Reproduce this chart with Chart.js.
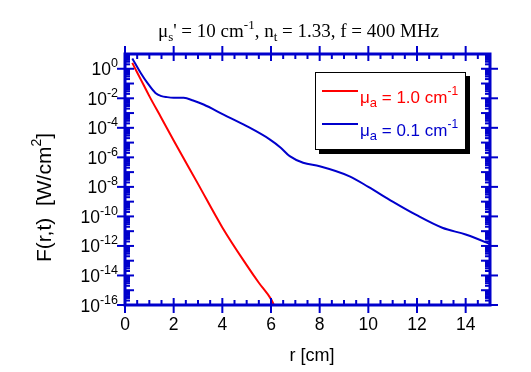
<!DOCTYPE html>
<html>
<head>
<meta charset="utf-8">
<script src="https://cdn.jsdelivr.net/npm/chart.js@4.4.0/dist/chart.umd.min.js"></script>
<style>
  html, body { margin: 0; padding: 0; background: #fff; }
  canvas { display: block; }
</style>
</head>
<body>
<canvas id="fluence" width="531" height="372"></canvas>
<script>
"use strict";

// mu_a = 1.0 cm-1
const redR = [0.3, 0.5, 0.75, 1.0, 1.5, 2.0, 3.0, 4.0, 5.0, 5.5, 6.0, 6.12];
const redF = [2.5, 5.6e-1, 8.9e-2, 1.4e-2, 4.5e-4, 1.4e-5, 1.6e-8, 1.8e-11,
              5.0e-14, 3.2e-15, 2.5e-16, 1.0e-16];

// mu_a = 0.1 cm-1
const blueR = [0.3, 0.64, 0.92, 1.25, 1.5, 1.73, 2.0, 2.41, 2.8, 3.23, 4.05, 5.0, 5.96, 6.4,
               6.77, 7.32, 8.0, 9.23, 10.0, 11.0, 11.95, 13.04, 14.0, 14.88, 15.0];
const blueF = [5.0, 5.4e-1, 1.1e-1, 2.3e-2, 1.4e-2, 1.2e-2, 1.1e-2, 1.07e-2, 7.1e-3, 3.8e-3,
               7.9e-4, 1.3e-4, 1.6e-5, 4.5e-6, 1.2e-6, 4.3e-7, 2.5e-7, 5.2e-8, 1.0e-8,
               1.0e-9, 1.3e-10, 1.7e-11, 5.9e-12, 1.6e-12, 1.3e-12];

const xTicks = [0, 2, 4, 6, 8, 10, 12, 14];
const yTickExps = [0, -2, -4, -6, -8, -10, -12, -14, -16];

const axisBlue = "#0000cc";
const sans = "'Liberation Sans', Arial, sans-serif";
const serif = "'Liberation Serif', 'Times New Roman', serif";

const toPoints = (xs, ys) => xs.map((x, i) => ({ x: x, y: ys[i] }));

// draws text made of pieces, each with its own font and vertical shift
const drawParts = (ctx, parts, x, y, align) => {
    let total = 0;
    for (const p of parts) {
        ctx.font = p.font;
        total += ctx.measureText(p.text).width;
    }
    let cx = x;
    if (align === "center") cx = x - total / 2;
    if (align === "right") cx = x - total;
    ctx.textAlign = "left";
    ctx.textBaseline = "alphabetic";
    for (const p of parts) {
        ctx.font = p.font;
        ctx.fillText(p.text, cx, y + (p.dy || 0));
        cx += ctx.measureText(p.text).width;
    }
};

const framePlugin = {
    id: "frame",
    afterDatasetsDraw(chart) {
        const { ctx, chartArea: a, scales: { x, y } } = chart;
        ctx.save();
        ctx.strokeStyle = axisBlue;
        ctx.lineWidth = 3;
        ctx.strokeRect(a.left, a.top, a.right - a.left, a.bottom - a.top);

        ctx.lineWidth = 2;
        const line = (x1, y1, x2, y2) => {
            ctx.beginPath();
            ctx.moveTo(x1, y1);
            ctx.lineTo(x2, y2);
            ctx.stroke();
        };

        // x ticks, minor every 0.5
        for (let v = 0; v <= x.max; v += 0.5) {
            const px = x.getPixelForValue(v);
            if (xTicks.includes(v)) {
                line(px, a.bottom - 7, px, a.bottom + 8);
                line(px, a.top - 8, px, a.top + 7);
            } else {
                line(px, a.bottom - 5, px, a.bottom);
                line(px, a.top, px, a.top + 5);
            }
        }

        // y ticks, decades and log minors
        for (let e = -16; e <= 0; e++) {
            const py = y.getPixelForValue(Math.pow(10, e));
            if (yTickExps.includes(e)) {
                line(a.left - 8, py, a.left + 9, py);
                line(a.right - 9, py, a.right + 8, py);
            } else {
                line(a.left, py, a.left + 9, py);
                line(a.right - 9, py, a.right, py);
            }
            for (let k = 2; k <= 9; k++) {
                const pm = y.getPixelForValue(k * Math.pow(10, e));
                line(a.left, pm, a.left + 5, pm);
                line(a.right - 5, pm, a.right, pm);
            }
        }

        // tick labels
        ctx.fillStyle = "#000";
        for (const v of xTicks) {
            drawParts(ctx, [{ text: String(v), font: "17.5px " + sans }],
                x.getPixelForValue(v), a.bottom + 25, "center");
        }
        for (const e of yTickExps) {
            const py = y.getPixelForValue(Math.pow(10, e));
            drawParts(ctx, [
                { text: "10", font: "17.5px " + sans },
                { text: String(e), font: "12.5px " + sans, dy: -8 }
            ], 118, py + 6.5, "right");
        }
        ctx.restore();
    },
    afterDraw(chart) {
        const { ctx } = chart;
        ctx.save();
        ctx.fillStyle = "#000";

        // title
        const big = "19px " + serif;
        const small = "13px " + serif;
        drawParts(ctx, [
            { text: "\u03bc", font: big },
            { text: "s", font: small, dy: 4 },
            { text: "' = 10 cm", font: big },
            { text: "-1", font: small, dy: -8 },
            { text: ", n", font: big },
            { text: "t", font: small, dy: 4 },
            { text: " = 1.33, f = 400 MHz", font: big }
        ], 298.5, 37, "center");

        // axis titles
        drawParts(ctx, [{ text: "r [cm]", font: "18px " + sans }], 312, 361, "center");
        ctx.translate(51, 197.5);
        ctx.rotate(-Math.PI / 2);
        drawParts(ctx, [
            { text: "F(r,t)  [W/cm", font: "21px " + sans },
            { text: "2", font: "14px " + sans, dy: -10 },
            { text: "]", font: "21px " + sans }
        ], 0, 0, "center");
        ctx.setTransform(1, 0, 0, 1, 0, 0);

        // legend box with shadow
        ctx.fillStyle = "#000";
        ctx.fillRect(319, 76, 151, 78);
        ctx.fillStyle = "#fff";
        ctx.fillRect(315, 72, 151, 78);
        ctx.strokeStyle = "#000";
        ctx.lineWidth = 1;
        ctx.strokeRect(315.5, 72.5, 150, 77);

        chart.data.datasets.forEach((ds, i) => {
            const ly = 91 + i * 33;
            ctx.strokeStyle = ds.borderColor;
            ctx.lineWidth = 2;
            ctx.beginPath();
            ctx.moveTo(322, ly);
            ctx.lineTo(358, ly);
            ctx.stroke();
            ctx.fillStyle = ds.borderColor;
            drawParts(ctx, [
                { text: "\u03bc", font: "17px " + sans },
                { text: "a", font: "13px " + sans, dy: 4 },
                { text: " = " + ds.label + " cm", font: "17px " + sans },
                { text: "-1", font: "12px " + sans, dy: -8 }
            ], 360, ly + 12, "left");
        });
        ctx.restore();
    }
};

new Chart(document.getElementById("fluence"), {
    type: "line",
    data: {
        datasets: [
            {
                label: "1.0",
                data: toPoints(redR, redF),
                borderColor: "#ff0000",
                borderWidth: 2,
                pointRadius: 0,
                cubicInterpolationMode: "monotone"
            },
            {
                label: "0.1",
                data: toPoints(blueR, blueF),
                borderColor: axisBlue,
                borderWidth: 2,
                pointRadius: 0,
                cubicInterpolationMode: "monotone"
            }
        ]
    },
    options: {
        responsive: false,
        animation: false,
        layout: { padding: { left: 125, right: 41, top: 54, bottom: 67 } },
        plugins: { legend: { display: false }, tooltip: { enabled: false } },
        scales: {
            x: { type: "linear", min: 0, max: 15, display: false },
            y: { type: "logarithmic", min: 1e-16, max: 10, display: false }
        }
    },
    plugins: [framePlugin]
});
</script>
</body>
</html>
